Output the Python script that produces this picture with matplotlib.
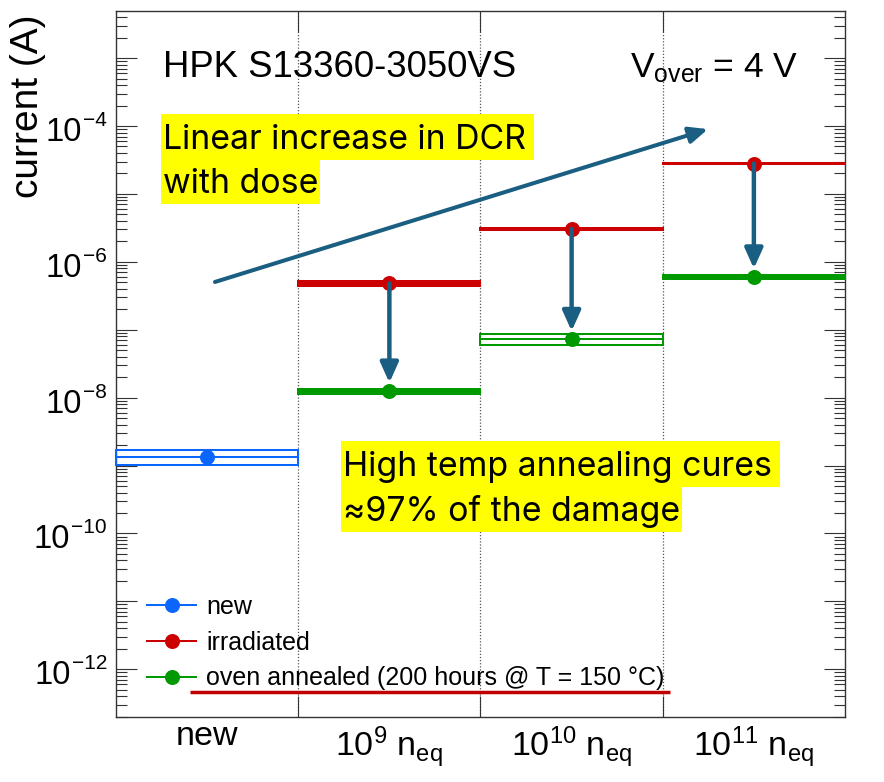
import numpy as np
import matplotlib
matplotlib.use('Agg')
import matplotlib.pyplot as plt
from matplotlib.lines import Line2D
from matplotlib.patches import Rectangle
from matplotlib.ticker import LogLocator, NullFormatter
import matplotlib.transforms as mtransforms

plt.rcParams['font.family'] = ['Liberation Sans', 'DejaVu Sans']
plt.rcParams['mathtext.fontset'] = 'custom'
plt.rcParams['mathtext.rm'] = 'Liberation Sans'
plt.rcParams['mathtext.it'] = 'Liberation Sans:italic'
plt.rcParams['mathtext.bf'] = 'Liberation Sans:bold'

# ---------------- data ----------------
categories = ['new', '10^9', '10^10', '10^11']
cat_labels = ['new',
              r'$\mathregular{10^{9}\ n_{eq}}$',
              r'$\mathregular{10^{10}\ n_{eq}}$',
              r'$\mathregular{10^{11}\ n_{eq}}$']

new_x = [0]
new_val = [1.35e-9]
new_lo = [1.03e-9]
new_hi = [1.70e-9]

irr_x = [1, 2, 3]
irr_val = [4.8e-7, 3.05e-6, 2.8e-5]
irr_lo = [4.4e-7, 2.97e-6, 2.74e-5]
irr_hi = [5.23e-7, 3.13e-6, 2.87e-5]

ann_x = [1, 2, 3]
ann_val = [1.25e-8, 7.2e-8, 6.0e-7]
ann_lo = [1.15e-8, 5.96e-8, 5.6e-7]
ann_hi = [1.35e-8, 8.65e-8, 6.4e-7]

legend_labels = ['new', 'irradiated', 'oven annealed (200 hours @ T = 150 °C)']

trend_tail = (0.043, 5.05e-7)
trend_head = (2.748, 9.0e-5)

y_label_exponents = [-12, -10, -8, -6, -4]

# ---------------- style ----------------
C_NEW = '#0a66ff'
C_IRR = '#cc0000'
C_ANN = '#009a00'
C_ARROW = '#1a5e82'
C_YEL = '#ffff00'
new_fill = [False]
irr_fill = [True, False, False]
ann_fill = [True, False, True]

W, H = 884, 782
AX_L, AX_R, AX_T, AX_B = 116, 845, 11, 717


def axf(px, py):
    return ((px - AX_L) / (AX_R - AX_L), (AX_B - py) / (AX_B - AX_T))


fig = plt.figure(figsize=(W / 100, H / 100), dpi=100)
ax = fig.add_axes([AX_L / W, (H - AX_B) / H, (AX_R - AX_L) / W, (AX_B - AX_T) / H])
ax.set_yscale('log')
ax.set_xlim(-0.5, 3.5)
ax.set_ylim(1.98e-13, 4.94e-3)

lw_box = 1.45
for xs, vals, lo, hi, c, fl in [(new_x, new_val, new_lo, new_hi, C_NEW, new_fill),
                                (irr_x, irr_val, irr_lo, irr_hi, C_IRR, irr_fill),
                                (ann_x, ann_val, ann_lo, ann_hi, C_ANN, ann_fill)]:
    xs = np.array(xs, float)
    lo = np.array(lo)
    hi = np.array(hi)
    bars = ax.bar(xs, hi - lo, bottom=lo, width=1.0, edgecolor=c,
                  linewidth=lw_box, zorder=3, clip_on=False)
    for b, f in zip(bars, fl):
        b.set_facecolor(c if f else 'none')
    ax.hlines(vals, xs - 0.5, xs + 0.5, color=c, lw=lw_box, zorder=3)
    ax.plot(xs, vals, 'o', color=c, ms=10.8, zorder=5, mew=0)

# dotted separators
for b in [0.5, 1.5, 2.5]:
    ax.axvline(b, color='#555555', lw=0.9, ls=(0, (1, 1.5)), zorder=1)

# annealing arrows
for i in range(len(irr_x)):
    ax.annotate('', xy=(ann_x[i], ann_val[i]), xytext=(irr_x[i], irr_val[i]),
                arrowprops=dict(arrowstyle='-|>,head_length=0.8,head_width=0.36',
                                mutation_scale=15, lw=3.2, color=C_ARROW,
                                shrinkA=0, shrinkB=6),
                zorder=6)

# trend arrow
ax.annotate('', xy=trend_head, xytext=trend_tail,
            arrowprops=dict(arrowstyle='-|>,head_length=0.75,head_width=0.33',
                            mutation_scale=15, lw=2.9, color=C_ARROW,
                            shrinkA=0, shrinkB=0),
            zorder=6)

# ticks
ax.set_xticks([0.5, 1.5, 2.5])
ax.set_xticklabels([])
ax.yaxis.set_major_locator(LogLocator(base=10, numticks=30))
ax.yaxis.set_minor_locator(LogLocator(base=10, subs=np.arange(2, 10), numticks=30))
ax.yaxis.set_major_formatter(NullFormatter())
ax.yaxis.set_minor_formatter(NullFormatter())
ax.tick_params(axis='both', which='both', direction='in', top=True, right=True,
               width=0.8, color='#333333')
ax.tick_params(axis='y', which='major', length=15)
ax.tick_params(axis='y', which='minor', length=8)
ax.tick_params(axis='x', which='major', length=15)
for s in ax.spines.values():
    s.set_color('#333333')
    s.set_linewidth(1.0)

# y tick labels (ROOT style: 10 with superscript exponent)
ytrans = mtransforms.blended_transform_factory(ax.transAxes, ax.transData)
for e in y_label_exponents:
    t_exp = ax.annotate('\u2212%d' % (-e), xy=(0, 10.0 ** e), xycoords=ytrans,
                        xytext=(-9, 0), textcoords='offset pixels',
                        ha='right', va='baseline', fontsize=15, annotation_clip=False)
    ax.annotate('10', xy=(0, 0), xycoords=t_exp, xytext=(-1, -11),
                textcoords='offset pixels', ha='right', va='baseline',
                fontsize=23.5, annotation_clip=False)

# category labels
trans = mtransforms.blended_transform_factory(ax.transData, ax.transAxes)
for i, lab in enumerate(cat_labels):
    yb = axf(0, 745)[1] if i == 0 else axf(0, 757)[1]
    ax.text(i, yb, lab, transform=trans, ha='center', va='baseline',
            fontsize=24.5, clip_on=False)

# y label
fig.text(28 / W, 1 - 106 / H, 'current (A)', rotation=90, ha='center',
         va='center', fontsize=28)

# header texts
ax.text(*axf(163, 77), 'HPK S13360-3050VS', transform=ax.transAxes,
        fontsize=26.3, ha='left', va='baseline')
ax.text(*axf(630, 77), r'$\mathregular{V_{over}}$ = 4 V', transform=ax.transAxes,
        fontsize=25.5, ha='left', va='baseline')

# yellow annotations
yfam = ['Inter', 'DejaVu Sans']
ytexts = []
for (px, py, s, rp) in [(163, 149, 'Linear increase in DCR', 8),
                        (163, 193, 'with dose', 2),
                        (343, 476, 'High temp annealing cures', 8),
                        (343, 521, '\u224897% of the damage', 2)]:
    t = ax.text(*axf(px, py), s, transform=ax.transAxes, fontsize=24.4,
                family=yfam, ha='left', va='baseline', zorder=8)
    ytexts.append((t, px, py, rp))

fig.canvas.draw()
rend = fig.canvas.get_renderer()
for t, px, py, rp in ytexts:
    ext = t.get_window_extent(renderer=rend)
    x0 = px - 2
    x1 = ext.x1 + rp
    top = py - 35
    bot = py + 11
    ax.add_patch(Rectangle((x0 / W, 1 - bot / H), (x1 - x0) / W, (bot - top) / H,
                           transform=fig.transFigure, facecolor=C_YEL,
                           edgecolor='none', zorder=7.5, clip_on=False))

# legend
handles = [Line2D([], [], color=c, marker='o', ms=10.8, lw=1.45, mew=0)
           for c in (C_NEW, C_IRR, C_ANN)]
ax.legend(handles, legend_labels, loc='upper left', bbox_to_anchor=axf(147, 595),
          frameon=False, fontsize=18, handlelength=1.96, handletextpad=0.4,
          labelspacing=0.47, borderpad=0, borderaxespad=0)

# red underline
ax.plot([axf(190, 0)[0], axf(670, 0)[0]], [axf(0, 692)[1]] * 2,
        transform=ax.transAxes, color='#c00000', lw=2.5, clip_on=False,
        solid_capstyle='butt', zorder=7)

fig.savefig('out.png', dpi=100)
